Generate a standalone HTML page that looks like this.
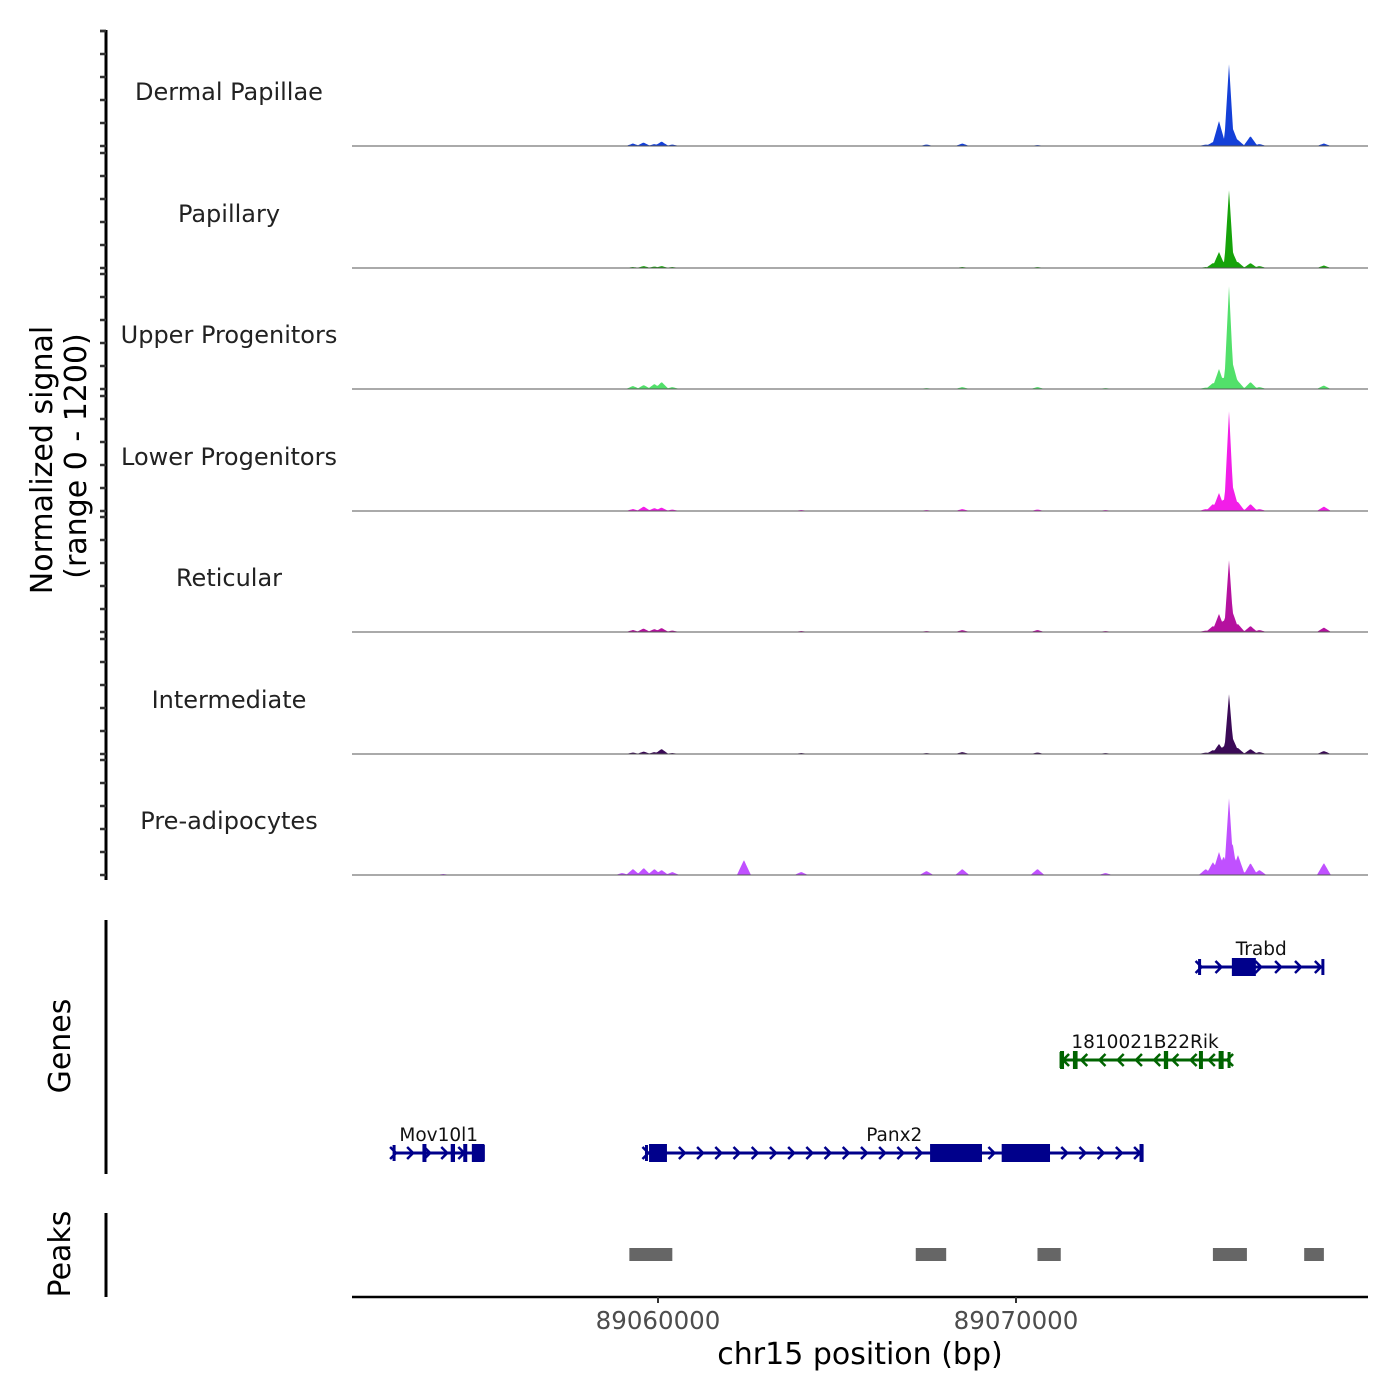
<!DOCTYPE html>
<html><head><meta charset="utf-8">
<style>
html,body{margin:0;padding:0;background:#fff;}
svg{display:block;font-family:"DejaVu Sans","Liberation Sans",sans-serif;}
</style></head>
<body>
<svg id="chart" width="1400" height="1400" viewBox="0 0 1400 1400" xmlns="http://www.w3.org/2000/svg">
  <g id="tracks"></g>
  <g id="genes"></g>
  <g id="peaks"></g>
  <g id="axes"></g>
</svg>
<script>
// ---- data ----
const trackNames = ["Dermal Papillae","Papillary","Upper Progenitors","Lower Progenitors","Reticular","Intermediate","Pre-adipocytes"];
const trackColors = ["#1440d8","#16a30a","#52e06a","#f21ee8","#b5119f","#3b0a57","#c050ff"];
// bump positions (bp) shared by all tracks
const bumpPos = [89054000,89059000,89059300,89059600,89059900,89060100,89060400,89062400,89064000,89067500,89068500,89070600,89072500,89075300,89075500,89075670,89075800,89075950,89076050,89076200,89076550,89076800,89078600];
const sigDP  = [5,5,25,35,20,45,15,0,5,15,25,10,5,15,40,250,70,820,180,60,100,20,25];
const sigPap = [5,5,10,20,15,20,10,0,5,5,10,10,5,10,50,160,60,780,160,60,50,20,25];
const sigUP  = [5,5,30,40,50,70,20,0,5,10,20,20,10,15,60,200,120,1030,260,80,70,20,35];
const sigLP  = [5,5,20,45,30,35,15,0,10,10,20,15,10,20,70,180,120,1000,250,90,70,20,45];
const sigRet = [5,5,20,35,30,40,15,0,10,10,20,20,10,15,60,180,120,720,200,80,60,20,45];
const sigInt = [5,5,15,25,20,50,10,0,10,10,20,15,10,15,40,100,80,600,160,60,50,20,30];
const sigPre = [10,20,60,70,60,50,30,150,30,40,60,60,20,60,130,230,190,770,320,200,120,50,120];
const trackSignals = [sigDP,sigPap,sigUP,sigLP,sigRet,sigInt,sigPre];
const xTicks = [89060000,89070000];
const xTickLabels = ["89060000","89070000"];
// genes
const geneNames = ["Trabd","1810021B22Rik","Mov10l1","Panx2"];
const geneStrand = ["+","-","+","+"];
const geneStart = [89075100,89071230,89052600,89059650];
const geneEnd = [89078600,89075980,89055150,89073550];
const geneRow = [0,1,2,2];
const geneExons = [
  [[89076030,89076700]],
  [[89071230,89071340],[89071590,89071720],[89074130,89074250],[89075110,89075170],[89075660,89075800]],
  [[89053420,89053500],[89054210,89054330],[89054560,89054650],[89054800,89055150]],
  [[89059750,89060250],[89067600,89069050],[89069600,89070950],[89073450,89073550]]
];
const peakStart = [89059200,89067200,89070600,89075500,89078050];
const peakEnd = [89060400,89068050,89071250,89076450,89078600];

// ---- scales ----
const X0=352, X1=1368;
const pxPerBp = 358/10000;
function xs(bp){return 658 + (bp-89060000)*pxPerBp;}
const baselines=[146,268,389,511,632,754,875];
const pxPerUnit = 0.1;
function ys(v,i){return baselines[i]-v*pxPerUnit;}

const NS="http://www.w3.org/2000/svg";
function mk(tag,attrs,parent){const e=document.createElementNS(NS,tag);for(const k in attrs)e.setAttribute(k,attrs[k]);parent.appendChild(e);return e;}

// ---- tracks ----
const tg=document.getElementById('tracks');
trackNames.forEach((name,i)=>{
  const g=mk('g',{},tg);
  
  
  const sig=trackSignals[i];
  const hw=5;
  let pts=[[X0,baselines[i]]];
  for(let x=X0;x<=X1;x++){
    let v=0;
    bumpPos.forEach((p,j)=>{const d=Math.abs(x-xs(p));const w=sig[j]>300?hw:hw+2;if(d<w)v=Math.max(v,sig[j]*(1-d/w));});
    pts.push([x,ys(v,i)]);
  }
  pts.push([X1,baselines[i]]);
  const area=mk('polygon',{points:pts.map(p=>p[0]+','+p[1].toFixed(1)).join(' '),fill:trackColors[i]},g);
  
  
  const bl=mk('line',{x1:X0,x2:X1,y1:baselines[i],y2:baselines[i],stroke:'#555','stroke-width':1},g);
  
  
  const t=mk('text',{x:229,y:baselines[i]-46,'text-anchor':'middle','font-size':24,fill:'#222'},g);
  t.textContent=name;
  
  
});

// ---- genes ----
const gg=document.getElementById('genes');
const rowY=[967,1060,1153];
geneNames.forEach((n,i)=>{
  const col=geneRow[i]===1?'#006400':'#00008b';
  const y=rowY[geneRow[i]];
  const g=mk('g',{},gg);
  
  
  const a=xs(geneStart[i]), b=xs(geneEnd[i]);
  mk('line',{x1:a,x2:b,y1:y,y2:y,stroke:col,'stroke-width':3},g);
  const nArrows=Math.floor((b-a)/18);
  for(let k=0;k<=nArrows;k++){
    const ax=a+3+k*(b-a-6)/Math.max(nArrows,1);
    const d=geneStrand[i]==='+'?-6:6;
    mk('polyline',{points:`${ax+d},${y-6} ${ax},${y} ${ax+d},${y+6}`,fill:'none',stroke:col,'stroke-width':2.5},g);
  }
  mk('line',{x1:a+1,x2:a+1,y1:y-8,y2:y+8,stroke:col,'stroke-width':3},g);
  mk('line',{x1:b-1,x2:b-1,y1:y-8,y2:y+8,stroke:col,'stroke-width':3},g);
  geneExons[i].forEach(e=>{
    const r=mk('rect',{x:xs(e[0]),y:y-9,width:Math.max(4,xs(e[1])-xs(e[0])),height:18,fill:col},g);
    
    
  });
  const t=mk('text',{x:(a+b)/2,y:y-12,'text-anchor':'middle','font-size':18.5,fill:'#111'},g);
  t.textContent=n;
  
  
});
// ---- peaks ----
const pg=document.getElementById('peaks');
peakStart.forEach((s,i)=>{
  const r=mk('rect',{x:xs(s),y:1248,width:xs(peakEnd[i])-xs(s),height:13,fill:'#666'},pg);
  
  
});

// ---- axes ----
const ag=document.getElementById('axes');
mk('line',{x1:106,x2:106,y1:30,y2:880,stroke:'#000','stroke-width':3},ag);
baselines.forEach(b=>{for(let k=0;k<6;k++){mk('line',{x1:100,x2:106,y1:b-k*23,y2:b-k*23,stroke:'#333','stroke-width':2.5},ag);}});
mk('line',{x1:100,x2:106,y1:31,y2:31,stroke:'#333','stroke-width':2.5},ag);
const yt=mk('text',{transform:'translate(52,460) rotate(-90)','text-anchor':'middle','font-size':30,fill:'#000'},ag);
yt.textContent='Normalized signal';


const yt2=mk('text',{transform:'translate(86,456) rotate(-90)','text-anchor':'middle','font-size':30,fill:'#000'},ag);
yt2.textContent='(range 0 - 1200)';


mk('line',{x1:106,x2:106,y1:920,y2:1174,stroke:'#000','stroke-width':3},ag);
const gt=mk('text',{transform:'translate(70,1046) rotate(-90)','text-anchor':'middle','font-size':30,fill:'#000'},ag);
gt.textContent='Genes';


mk('line',{x1:106,x2:106,y1:1213,y2:1297,stroke:'#000','stroke-width':3},ag);
const pt=mk('text',{transform:'translate(70,1254) rotate(-90)','text-anchor':'middle','font-size':30,fill:'#000'},ag);
pt.textContent='Peaks';


mk('line',{x1:352,x2:1368,y1:1297,y2:1297,stroke:'#000','stroke-width':2.5},ag);
xTicks.forEach((v,i)=>{
  mk('line',{x1:xs(v),x2:xs(v),y1:1297,y2:1303,stroke:'#333','stroke-width':2},ag);
  const t=mk('text',{x:xs(v),y:1329,'text-anchor':'middle','font-size':24.5,fill:'#4d4d4d'},ag);
  t.textContent=xTickLabels[i];
  
  
});
const xt=mk('text',{x:860,y:1364,'text-anchor':'middle','font-size':30,fill:'#000'},ag);
xt.textContent='chr15 position (bp)';


</script>
</body></html>
